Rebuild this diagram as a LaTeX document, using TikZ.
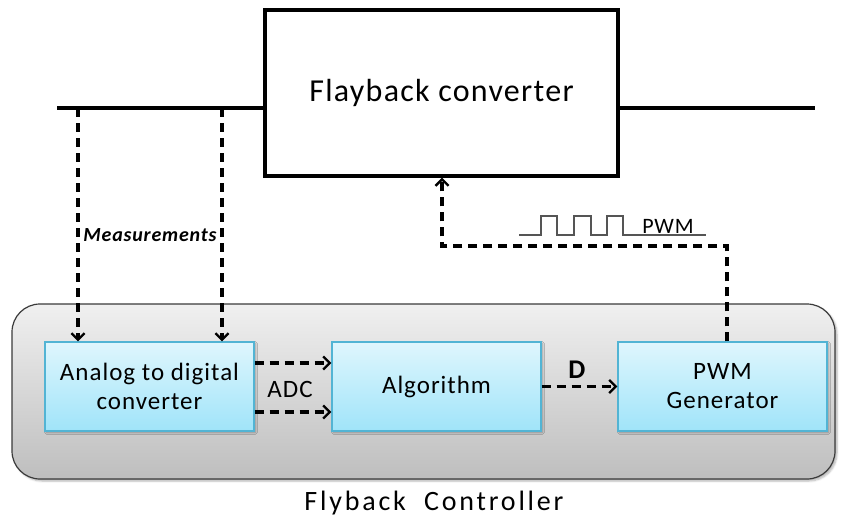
\documentclass[tikz,border=0pt]{standalone}
\usepackage{fontspec}
\setmainfont[LetterSpace=4]{Carlito}
\usetikzlibrary{arrows.meta,shadows.blur}
\definecolor{bluetop}{HTML}{DFF6FD}
\definecolor{bluebot}{HTML}{A0E4F9}
\definecolor{blueedge}{HTML}{52B4D4}
\definecolor{graytop}{HTML}{F0F0F0}
\definecolor{graybot}{HTML}{BEBEBE}
\definecolor{grayedge}{HTML}{3A3A3A}
\definecolor{wave}{HTML}{555555}
\begin{document}
\begin{tikzpicture}[x=1pt,y=-1pt,
  wire/.style={line width=3.2pt},
  sig/.style={line width=3.2pt, dash pattern=on 9pt off 6pt},
  tip/.style={-{Straight Barb[length=6.5pt,width=13pt,line width=2.4pt]}},
  block/.style={draw=blueedge, line width=1.2pt, top color=bluetop, bottom color=bluebot,
    minimum width=209pt, minimum height=89pt, align=center, inner sep=0pt,
    font=\fontsize{25}{29}\selectfont,
    blur shadow={shadow xshift=1.5pt, shadow yshift=-1.5pt, shadow blur steps=4, shadow opacity=35}},
  lbl/.style={inner sep=0pt},
]
\useasboundingbox (0,0) rectangle (848,522);

% controller housing
\draw[rounded corners=28pt, line width=1.2pt, draw=grayedge, top color=graytop, bottom color=graybot,
  blur shadow={shadow xshift=2pt, shadow yshift=-2pt, shadow blur steps=5, shadow opacity=30}]
  (12,304) rectangle (835,479);
\node[lbl, font=\fontsize{28}{32}\selectfont\addfontfeatures{LetterSpace=10}] (ctl) at (434,503) {Flyback\ \ Controller};

% power stage
\node[draw, line width=3.2pt, minimum width=353pt, minimum height=166pt, inner sep=0pt,
  font=\fontsize{32}{36}\selectfont] (conv) at (441.5,93) {Flayback converter};
\coordinate (inL) at (57,108);
\coordinate (outR) at (815,108);
\draw[wire] (inL) -- (conv.west |- inL);
\draw[wire] (conv.east |- outR) -- (outR);

% processing blocks
\node[block] (adc) at (149.5,386.5) {Analog to digital\\converter};
\node[block] (alg) at (436.5,386.5) {Algorithm};
\node[block] (pwm) at (722.5,386.5) {PWM\\Generator};

% measurement taps
\coordinate (m1) at (78,108);
\coordinate (m2) at (222,108);
\draw[sig,tip] (m1) -- (adc.north -| m1);
\draw[sig,tip] (m2) -- (adc.north -| m2);
\node[lbl, font=\fontsize{20}{24}\selectfont\bfseries\itshape] (meas) at (150,235) {Measurements};

% ADC outputs
\draw[sig,tip] ([yshift=23.5pt]adc.east) -- ([yshift=23.5pt]alg.west);
\draw[sig,tip] ([yshift=-25.5pt]adc.east) -- ([yshift=-25.5pt]alg.west);
\node[lbl, font=\fontsize{25}{29}\selectfont] (adclbl) at (290,389) {ADC};

% duty cycle
\draw[sig,tip] (alg) -- (pwm);
\node[lbl, font=\fontsize{27}{31}\selectfont\bfseries] (dlbl) at (577,370) {D};

% gate drive feedback
\coordinate (fbk) at (442,246);
\draw[sig,tip] ([xshift=4.5pt]pwm.north) |- (fbk) -- (conv.south -| fbk);

% PWM waveform sketch
\draw[wave, line width=1.3pt] (519,235) -- (541,235) -- (541,216) -- (557,216) -- (557,235)
  -- (574,235) -- (574,216) -- (591,216) -- (591,235) -- (607,235) -- (607,216)
  -- (623,216) -- (623,235) -- (706,235);
\node[lbl, font=\fontsize{22}{26}\selectfont] (pwmlbl) at (668,226) {PWM};
\end{tikzpicture}
\end{document}
